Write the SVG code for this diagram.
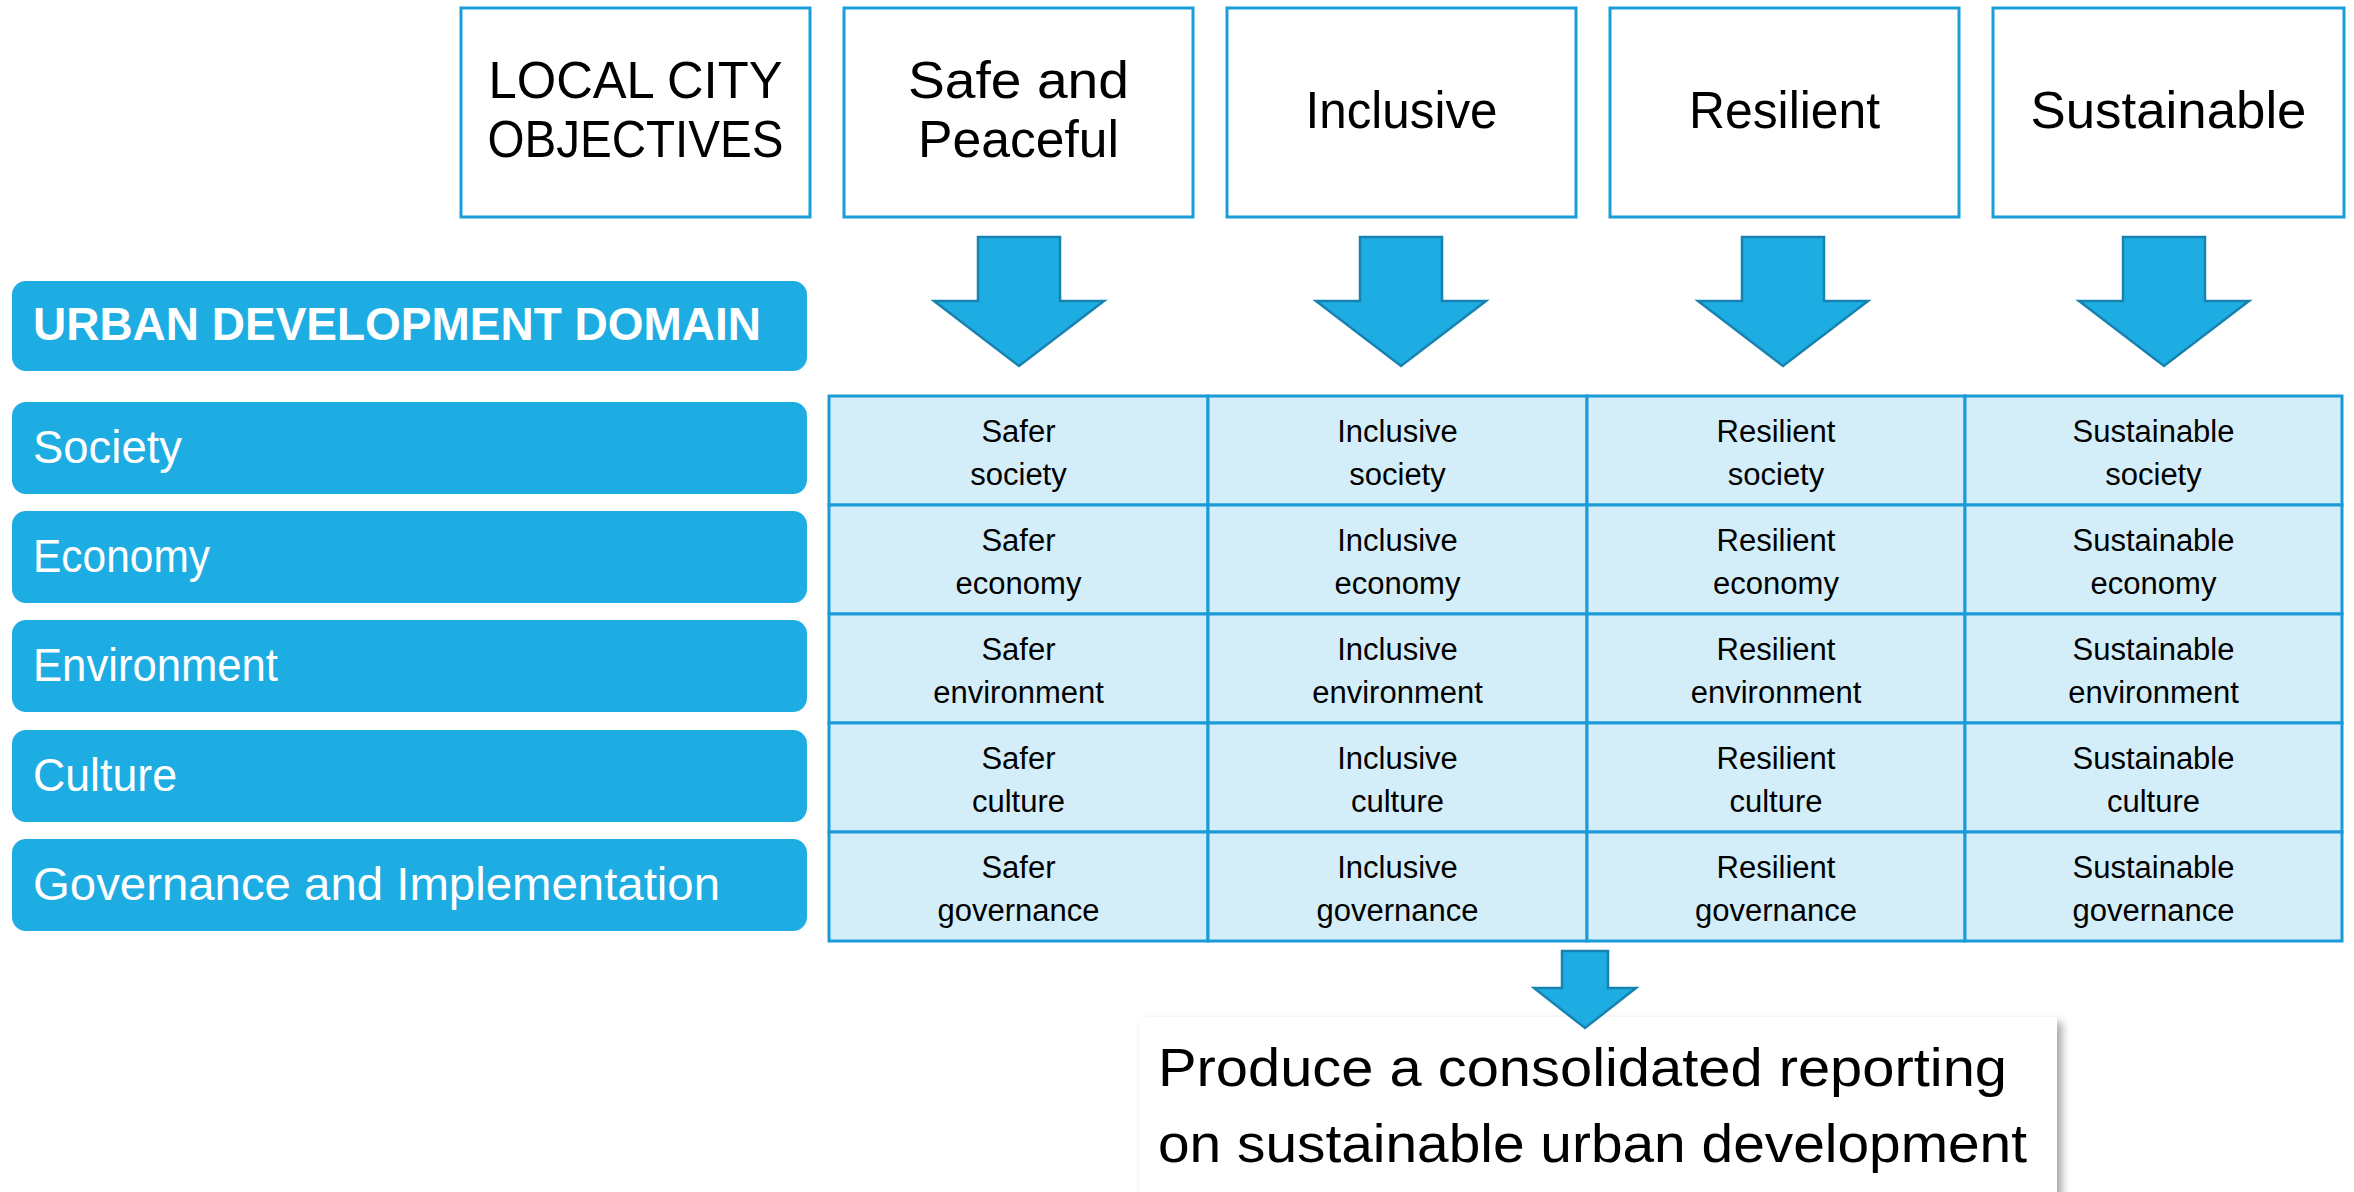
<svg xmlns="http://www.w3.org/2000/svg" width="2354" height="1192" viewBox="0 0 2354 1192">
  <style>
    .hdr { fill: #ffffff; stroke: #1b9dd9; stroke-width: 3; }
    .hdr-t { font-family: "Liberation Sans", Arial, sans-serif; font-size: 52px; fill: #000000; text-anchor: middle; }
    .dom { fill: #1eade3; }
    .dom-t { font-family: "Liberation Sans", Arial, sans-serif; font-size: 46px; fill: #ffffff; }
    .dom-h { font-family: "Liberation Sans", Arial, sans-serif; font-size: 46px; font-weight: bold; fill: #ffffff; }
    .cell { fill: #d3eef9; stroke: #1a9bd8; stroke-width: 3; }
    .cell-t { font-family: "Liberation Sans", Arial, sans-serif; font-size: 31px; fill: #000000; text-anchor: middle; }
    .arrow { fill: #1eade3; stroke: #1782b0; stroke-width: 2.5; stroke-linejoin: miter; }
    .out-t { font-family: "Liberation Sans", Arial, sans-serif; font-size: 54px; fill: #000000; }
  </style>
  <defs>
    <filter id="shadow" x="-5%" y="-10%" width="115%" height="130%">
      <feDropShadow dx="5" dy="5" stdDeviation="4" flood-color="#000000" flood-opacity="0.35"/>
    </filter>
  </defs>

  <rect width="2354" height="1192" fill="#ffffff"/>

  <!-- objective headers -->
  <g id="objectives">
    <rect class="hdr" x="461" y="8" width="349" height="209"/>
    <text class="hdr-t" x="635.5" y="98" textLength="294" lengthAdjust="spacingAndGlyphs">LOCAL CITY</text>
    <text class="hdr-t" x="635.5" y="157" textLength="296" lengthAdjust="spacingAndGlyphs">OBJECTIVES</text>
  </g>
  <g id="safe">
    <rect class="hdr" x="844" y="8" width="349" height="209"/>
    <text class="hdr-t" x="1018.5" y="98" textLength="221" lengthAdjust="spacingAndGlyphs">Safe and</text>
    <text class="hdr-t" x="1018.5" y="157" textLength="201" lengthAdjust="spacingAndGlyphs">Peaceful</text>
  </g>
  <g id="inclusive">
    <rect class="hdr" x="1227" y="8" width="349" height="209"/>
    <text class="hdr-t" x="1401.5" y="128" textLength="192" lengthAdjust="spacingAndGlyphs">Inclusive</text>
  </g>
  <g id="resilient">
    <rect class="hdr" x="1610" y="8" width="349" height="209"/>
    <text class="hdr-t" x="1784.5" y="128" textLength="191" lengthAdjust="spacingAndGlyphs">Resilient</text>
  </g>
  <g id="sustainable">
    <rect class="hdr" x="1993" y="8" width="351" height="209"/>
    <text class="hdr-t" x="2168.5" y="128" textLength="276" lengthAdjust="spacingAndGlyphs">Sustainable</text>
  </g>

  <!-- urban development domains -->
  <g id="domain-header">
    <rect class="dom" x="12" y="281" width="795" height="90" rx="14"/>
    <text class="dom-h" x="33" y="340" textLength="728" lengthAdjust="spacingAndGlyphs">URBAN DEVELOPMENT DOMAIN</text>
  </g>
  <g id="domain-society">
    <rect class="dom" x="12" y="402" width="795" height="92" rx="14"/>
    <text class="dom-t" x="33" y="463" textLength="149" lengthAdjust="spacingAndGlyphs">Society</text>
  </g>
  <g id="domain-economy">
    <rect class="dom" x="12" y="511" width="795" height="92" rx="14"/>
    <text class="dom-t" x="33" y="572" textLength="177" lengthAdjust="spacingAndGlyphs">Economy</text>
  </g>
  <g id="domain-environment">
    <rect class="dom" x="12" y="620" width="795" height="92" rx="14"/>
    <text class="dom-t" x="33" y="681" textLength="245" lengthAdjust="spacingAndGlyphs">Environment</text>
  </g>
  <g id="domain-culture">
    <rect class="dom" x="12" y="730" width="795" height="92" rx="14"/>
    <text class="dom-t" x="33" y="791" textLength="144" lengthAdjust="spacingAndGlyphs">Culture</text>
  </g>
  <g id="domain-governance">
    <rect class="dom" x="12" y="839" width="795" height="92" rx="14"/>
    <text class="dom-t" x="33" y="900" textLength="687" lengthAdjust="spacingAndGlyphs">Governance and Implementation</text>
  </g>

  <!-- matrix: column = objective, row = domain -->
  <g id="matrix">
    <g id="cell-safe-society"><rect class="cell" x="829" y="396" width="379" height="109"/><text class="cell-t" x="1018.5" y="442">Safer</text><text class="cell-t" x="1018.5" y="485">society</text></g>
    <g id="cell-inclusive-society"><rect class="cell" x="1208" y="396" width="379" height="109"/><text class="cell-t" x="1397.5" y="442">Inclusive</text><text class="cell-t" x="1397.5" y="485">society</text></g>
    <g id="cell-resilient-society"><rect class="cell" x="1587" y="396" width="378" height="109"/><text class="cell-t" x="1776" y="442">Resilient</text><text class="cell-t" x="1776" y="485">society</text></g>
    <g id="cell-sustainable-society"><rect class="cell" x="1965" y="396" width="377" height="109"/><text class="cell-t" x="2153.5" y="442">Sustainable</text><text class="cell-t" x="2153.5" y="485">society</text></g>

    <g id="cell-safe-economy"><rect class="cell" x="829" y="505" width="379" height="109"/><text class="cell-t" x="1018.5" y="551">Safer</text><text class="cell-t" x="1018.5" y="594">economy</text></g>
    <g id="cell-inclusive-economy"><rect class="cell" x="1208" y="505" width="379" height="109"/><text class="cell-t" x="1397.5" y="551">Inclusive</text><text class="cell-t" x="1397.5" y="594">economy</text></g>
    <g id="cell-resilient-economy"><rect class="cell" x="1587" y="505" width="378" height="109"/><text class="cell-t" x="1776" y="551">Resilient</text><text class="cell-t" x="1776" y="594">economy</text></g>
    <g id="cell-sustainable-economy"><rect class="cell" x="1965" y="505" width="377" height="109"/><text class="cell-t" x="2153.5" y="551">Sustainable</text><text class="cell-t" x="2153.5" y="594">economy</text></g>

    <g id="cell-safe-environment"><rect class="cell" x="829" y="614" width="379" height="109"/><text class="cell-t" x="1018.5" y="660">Safer</text><text class="cell-t" x="1018.5" y="703">environment</text></g>
    <g id="cell-inclusive-environment"><rect class="cell" x="1208" y="614" width="379" height="109"/><text class="cell-t" x="1397.5" y="660">Inclusive</text><text class="cell-t" x="1397.5" y="703">environment</text></g>
    <g id="cell-resilient-environment"><rect class="cell" x="1587" y="614" width="378" height="109"/><text class="cell-t" x="1776" y="660">Resilient</text><text class="cell-t" x="1776" y="703">environment</text></g>
    <g id="cell-sustainable-environment"><rect class="cell" x="1965" y="614" width="377" height="109"/><text class="cell-t" x="2153.5" y="660">Sustainable</text><text class="cell-t" x="2153.5" y="703">environment</text></g>

    <g id="cell-safe-culture"><rect class="cell" x="829" y="723" width="379" height="109"/><text class="cell-t" x="1018.5" y="769">Safer</text><text class="cell-t" x="1018.5" y="812">culture</text></g>
    <g id="cell-inclusive-culture"><rect class="cell" x="1208" y="723" width="379" height="109"/><text class="cell-t" x="1397.5" y="769">Inclusive</text><text class="cell-t" x="1397.5" y="812">culture</text></g>
    <g id="cell-resilient-culture"><rect class="cell" x="1587" y="723" width="378" height="109"/><text class="cell-t" x="1776" y="769">Resilient</text><text class="cell-t" x="1776" y="812">culture</text></g>
    <g id="cell-sustainable-culture"><rect class="cell" x="1965" y="723" width="377" height="109"/><text class="cell-t" x="2153.5" y="769">Sustainable</text><text class="cell-t" x="2153.5" y="812">culture</text></g>

    <g id="cell-safe-governance"><rect class="cell" x="829" y="832" width="379" height="109"/><text class="cell-t" x="1018.5" y="878">Safer</text><text class="cell-t" x="1018.5" y="921">governance</text></g>
    <g id="cell-inclusive-governance"><rect class="cell" x="1208" y="832" width="379" height="109"/><text class="cell-t" x="1397.5" y="878">Inclusive</text><text class="cell-t" x="1397.5" y="921">governance</text></g>
    <g id="cell-resilient-governance"><rect class="cell" x="1587" y="832" width="378" height="109"/><text class="cell-t" x="1776" y="878">Resilient</text><text class="cell-t" x="1776" y="921">governance</text></g>
    <g id="cell-sustainable-governance"><rect class="cell" x="1965" y="832" width="377" height="109"/><text class="cell-t" x="2153.5" y="878">Sustainable</text><text class="cell-t" x="2153.5" y="921">governance</text></g>
  </g>

  <!-- consolidated reporting output -->
  <g id="report">
    <rect x="1139" y="1017" width="918" height="180" fill="#ffffff" filter="url(#shadow)"/>
    <text class="out-t" x="1158" y="1086" textLength="849" lengthAdjust="spacingAndGlyphs">Produce a consolidated reporting</text>
    <text class="out-t" x="1158" y="1162" textLength="869" lengthAdjust="spacingAndGlyphs">on sustainable urban development</text>
  </g>

  <!-- block arrows -->
  <g id="connectors">
    <path class="arrow" d="M978,237 H1060 V301 H1104 L1019,366 L934,301 H978 Z"/>
    <path class="arrow" d="M1360,237 H1442 V301 H1486 L1401,366 L1316,301 H1360 Z"/>
    <path class="arrow" d="M1742,237 H1824 V301 H1868 L1783,366 L1698,301 H1742 Z"/>
    <path class="arrow" d="M2123,237 H2205 V301 H2249 L2164,366 L2079,301 H2123 Z"/>
    <path class="arrow" d="M1562,951 H1608 V988 H1636 L1585,1028 L1534,988 H1562 Z"/>
  </g>
</svg>
